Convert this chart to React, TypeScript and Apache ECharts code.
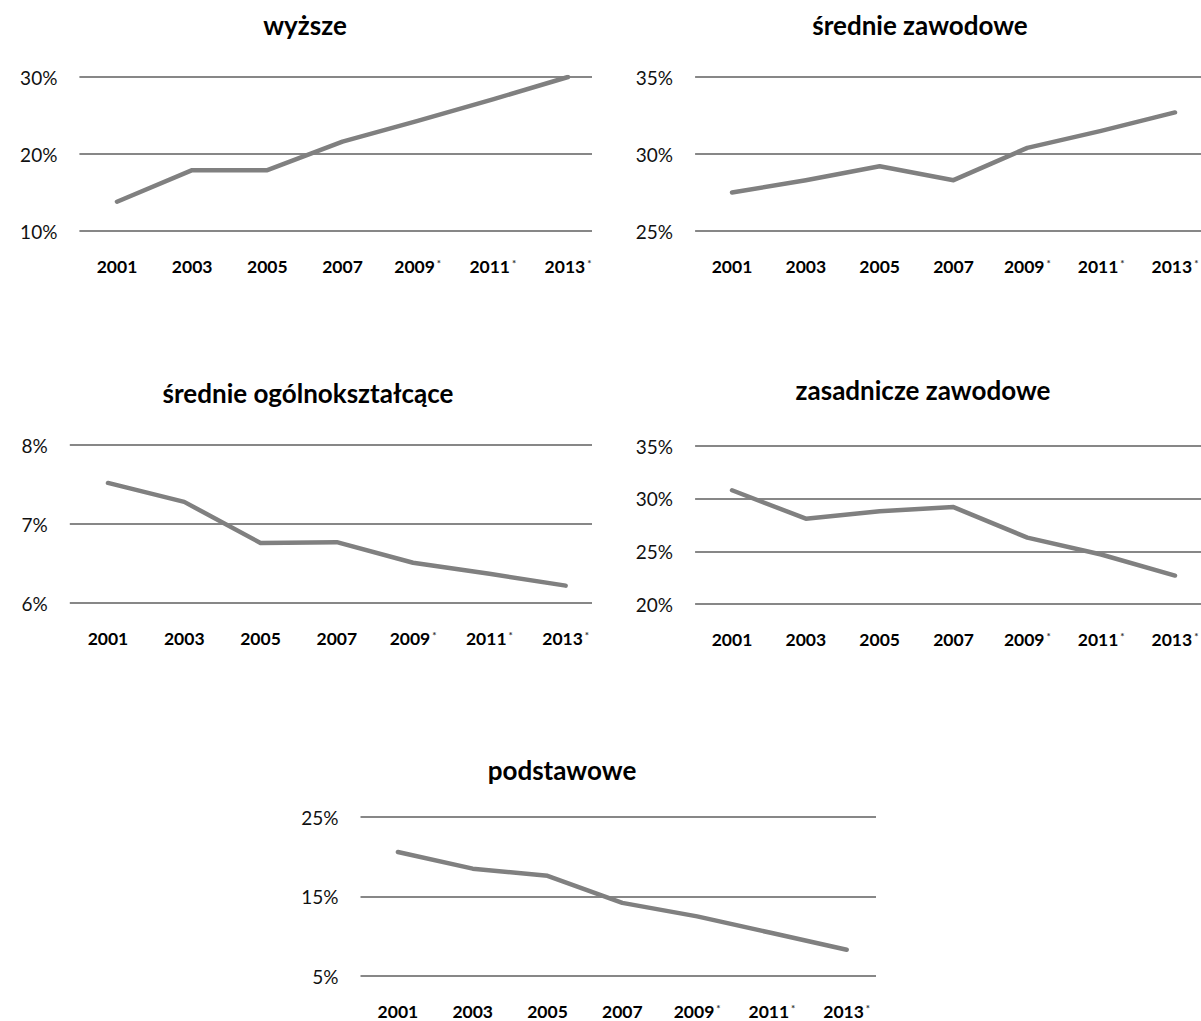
import React, { useEffect, useRef } from "react";
import * as echarts from "echarts";

const years = ["2001", "2003", "2005", "2007", "2009*", "2011*", "2013*"];

const wyzsze = [13.8, 17.9, 17.9, 21.6, 24.3, 27.1, 30.0];
const srednieZawodowe = [27.5, 28.3, 29.2, 28.3, 30.4, 31.5, 32.7];
const srednieOgolne = [7.52, 7.28, 6.76, 6.77, 6.51, 6.37, 6.22];
const zasadniczeZawodowe = [30.8, 28.1, 28.8, 29.2, 26.3, 24.7, 22.7];
const podstawowe = [20.6, 18.5, 17.6, 14.2, 12.5, 10.4, 8.3];

const titles = [
  "wyższe",
  "średnie zawodowe",
  "średnie ogólnokształcące",
  "zasadnicze zawodowe",
  "podstawowe",
];

type Panel = {
  title: string;
  data: number[];
  min: number;
  max: number;
  interval: number;
  crop: { left: number; top: number; width: number; height: number };
  grid: { left: number; top: number; height: number; width: number };
  titleX: number;
  titleY: number;
};

const panels: Panel[] = [
  {
    title: titles[0],
    data: wyzsze,
    min: 10,
    max: 30,
    interval: 10,
    crop: { left: 0, top: 0, width: 592, height: 300 },
    grid: { left: 79.4, top: 77, height: 154, width: 526.2 },
    titleX: 305,
    titleY: 25,
  },
  {
    title: titles[1],
    data: srednieZawodowe,
    min: 25,
    max: 35,
    interval: 5,
    crop: { left: 600, top: 0, width: 601, height: 300 },
    grid: { left: 95.1, top: 77, height: 154, width: 516.8 },
    titleX: 320,
    titleY: 25,
  },
  {
    title: titles[2],
    data: srednieOgolne,
    min: 6,
    max: 8,
    interval: 1,
    crop: { left: 0, top: 360, width: 592, height: 310 },
    grid: { left: 69.8, top: 85, height: 158, width: 534 },
    titleX: 308,
    titleY: 33,
  },
  {
    title: titles[3],
    data: zasadniczeZawodowe,
    min: 20,
    max: 35,
    interval: 5,
    crop: { left: 600, top: 360, width: 601, height: 310 },
    grid: { left: 95.1, top: 86, height: 158, width: 516.8 },
    titleX: 323,
    titleY: 30,
  },
  {
    title: titles[4],
    data: podstawowe,
    min: 5,
    max: 25,
    interval: 10,
    crop: { left: 250, top: 740, width: 626, height: 281 },
    grid: { left: 110.5, top: 77, height: 159, width: 523.6 },
    titleX: 312,
    titleY: 30,
  },
];

const yearLabel = (v: string) => {
  if (v.endsWith("*")) return `{d|${v.slice(0, -1)}}{s|*}`;
  return `{d|${v}}`;
};

function PanelChart({ p }: { p: Panel }) {
  const ref = useRef<HTMLDivElement>(null);
  useEffect(() => {
    if (!ref.current) return;
    const chart = echarts.init(ref.current, undefined, { renderer: "svg" });
    chart.setOption({
      animation: false,
      backgroundColor: "#ffffff",
      graphic: [
        {
          type: "text",
          x: p.titleX,
          y: p.titleY,
          style: {
            text: p.title,
            font: "bold 26px Lato",
            fill: "#000000",
            textAlign: "center",
            textVerticalAlign: "middle",
          },
        },
      ],
      grid: {
        left: p.grid.left,
        top: p.grid.top,
        width: p.grid.width,
        height: p.grid.height,
        containLabel: false,
      },
      xAxis: {
        type: "category",
        data: years,
        boundaryGap: true,
        axisLine: { show: false },
        axisTick: { show: false },
        splitLine: { show: false },
        axisLabel: {
          margin: 26,
          interval: 0,
          formatter: yearLabel,
          rich: {
            d: {
              fontFamily: "Lato",
              fontWeight: "bold",
              fontSize: 17.5,
              color: "#000000",
            },
            s: {
              fontFamily: "Lato",
              fontWeight: "bold",
              fontSize: 10,
              color: "#333333",
              padding: [0, 0, 6, 2],
            },
          },
        },
      },
      yAxis: {
        type: "value",
        min: p.min,
        max: p.max,
        interval: p.interval,
        axisLine: { show: false },
        axisTick: { show: false },
        splitLine: { show: true, lineStyle: { color: "#878787", width: 2 } },
        axisLabel: {
          margin: 22,
          fontFamily: "Lato",
          fontSize: 19,
          color: "#111111",
          formatter: (v: number) => `${v}%`,
        },
      },
      series: [
        {
          type: "line",
          data: p.data,
          symbol: "none",
          lineStyle: { color: "#808080", width: 4.5, join: "round", cap: "round" },
        },
      ],
    });
    return () => chart.dispose();
  }, [p]);
  return (
    <div
      style={{
        position: "absolute",
        left: p.crop.left,
        top: p.crop.top,
        width: p.crop.width,
        height: p.crop.height,
        overflow: "hidden",
      }}
    >
      <div ref={ref} style={{ width: p.crop.width + 80, height: p.crop.height }} />
    </div>
  );
}

export default function App() {
  return (
    <div
      style={{
        position: "absolute",
        left: 0,
        top: 0,
        width: 1201,
        height: 1021,
        background: "#ffffff",
        overflow: "hidden",
      }}
    >
      {panels.map((p, i) => (
        <PanelChart key={i} p={p} />
      ))}
    </div>
  );
}
